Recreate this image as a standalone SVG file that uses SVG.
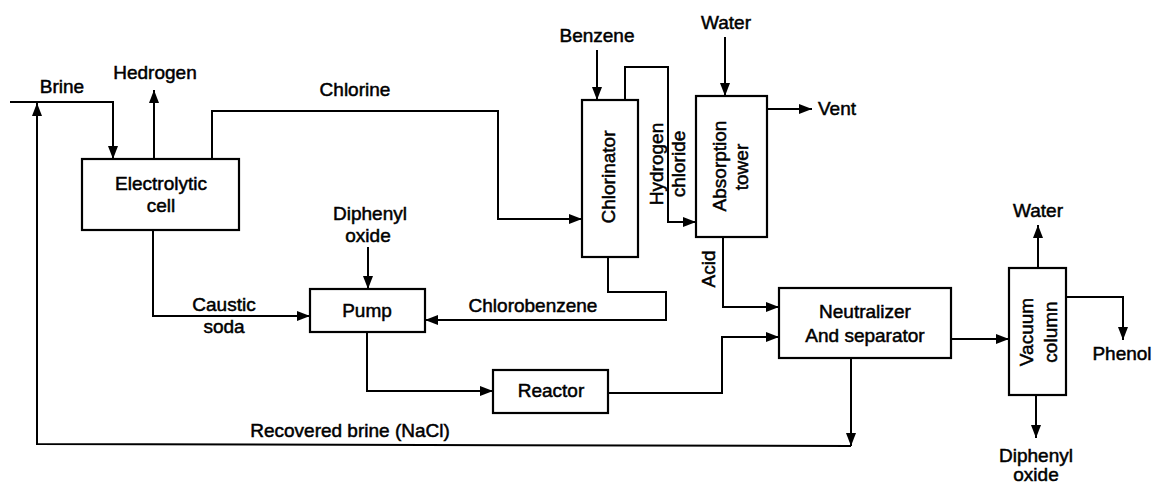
<svg xmlns="http://www.w3.org/2000/svg" width="1155" height="484" viewBox="0 0 1155 484">
<defs>
<marker id="ah" viewBox="0 0 13 10" refX="13" refY="5" markerWidth="13" markerHeight="10" markerUnits="userSpaceOnUse" orient="auto">
<path d="M0,0 L13,5 L0,10 z" fill="#000"/>
</marker>
<style>
.box{fill:#fff;stroke:#000;stroke-width:2.2}
.ln{fill:none;stroke:#000;stroke-width:2}
.ar{marker-end:url(#ah)}
text{font-family:"Liberation Sans",Arial,sans-serif;font-size:19px;fill:#000;stroke:#000;stroke-width:0.5}
.c{text-anchor:middle}
</style>
</defs>
<rect width="1155" height="484" fill="#fff"/>
<g id="connectors">
<polyline class="ln ar" points="10,102 113,102 113,159"/>
<polyline class="ln ar" points="851,358 851,446"/>
<polyline class="ln ar" points="851,446 37,444 37,103"/>
<polyline class="ln ar" points="154,159 154,90"/>
<polyline class="ln ar" points="212,159 212,111 498,111 498,219 582,219"/>
<polyline class="ln ar" points="597,50 597,100"/>
<polyline class="ln ar" points="625,100 625,67 668,67 668,222 696,222"/>
<polyline class="ln ar" points="725,37 725,96"/>
<polyline class="ln ar" points="767,109 812,109"/>
<polyline class="ln ar" points="608,257 608,292 666,292 666,320 425,320"/>
<polyline class="ln ar" points="368,247 368,289"/>
<polyline class="ln ar" points="153,230 153,316 310,316"/>
<polyline class="ln ar" points="367,332 367,391 493,391"/>
<polyline class="ln ar" points="608,393 722,393 722,337 779,337"/>
<polyline class="ln ar" points="723,237 723,307 779,307"/>
<polyline class="ln ar" points="951,339 1009,339"/>
<polyline class="ln ar" points="1038,268 1038,225"/>
<polyline class="ln ar" points="1066,297 1123,297 1123,340"/>
<polyline class="ln ar" points="1036,395 1036,438"/>
</g>
<g id="labels">
<text class="c" x="62" y="93">Brine</text>
<text class="c" x="155" y="79">Hedrogen</text>
<text class="c" x="355" y="96">Chlorine</text>
<text class="c" x="597" y="42">Benzene</text>
<text class="c" x="726" y="29">Water</text>
<text x="818" y="115">Vent</text>
<text class="c" x="370" y="220">Diphenyl</text>
<text class="c" x="368" y="242">oxide</text>
<text class="c" x="224" y="311">Caustic</text>
<text class="c" x="224" y="333">soda</text>
<text class="c" x="533" y="312">Chlorobenzene</text>
<text class="c" x="350" y="437">Recovered brine (NaCl)</text>
<text class="c" x="1038" y="217">Water</text>
<text class="c" x="1122" y="360">Phenol</text>
<text class="c" x="1036" y="462">Diphenyl</text>
<text class="c" x="1036" y="481">oxide</text>
<text class="c" transform="translate(663,164) rotate(-90)" x="0" y="0">Hydrogen</text>
<text class="c" transform="translate(685,164) rotate(-90)" x="0" y="0">chloride</text>
<text class="c" transform="translate(715,269) rotate(-90)" x="0" y="0">Acid</text>
</g>
<g id="electrolytic-cell">
<rect class="box" x="82" y="159" width="157" height="71"/>
<text class="c" x="161" y="190">Electrolytic</text>
<text class="c" x="161" y="212">cell</text>
</g>
<g id="chlorinator">
<rect class="box" x="582" y="100" width="56" height="157"/>
<text class="c" transform="translate(615,177) rotate(-90)" x="0" y="0">Chlorinator</text>
</g>
<g id="absorption-tower">
<rect class="box" x="696" y="96" width="71" height="141"/>
<text class="c" transform="translate(726,166) rotate(-90)" x="0" y="0">Absorption</text>
<text class="c" transform="translate(748,167) rotate(-90)" x="0" y="0">tower</text>
</g>
<g id="pump">
<rect class="box" x="310" y="289" width="115" height="43"/>
<text class="c" x="367" y="317">Pump</text>
</g>
<g id="reactor">
<rect class="box" x="493" y="370" width="115" height="43"/>
<text class="c" x="551" y="397">Reactor</text>
</g>
<g id="neutralizer">
<rect class="box" x="779" y="288" width="172" height="70"/>
<text class="c" x="865" y="318">Neutralizer</text>
<text class="c" x="865" y="342">And separator</text>
</g>
<g id="vacuum-column">
<rect class="box" x="1009" y="268" width="57" height="127"/>
<text class="c" transform="translate(1033,332) rotate(-90)" x="0" y="0">Vacuum</text>
<text class="c" transform="translate(1057,332) rotate(-90)" x="0" y="0">column</text>
</g>
</svg>
